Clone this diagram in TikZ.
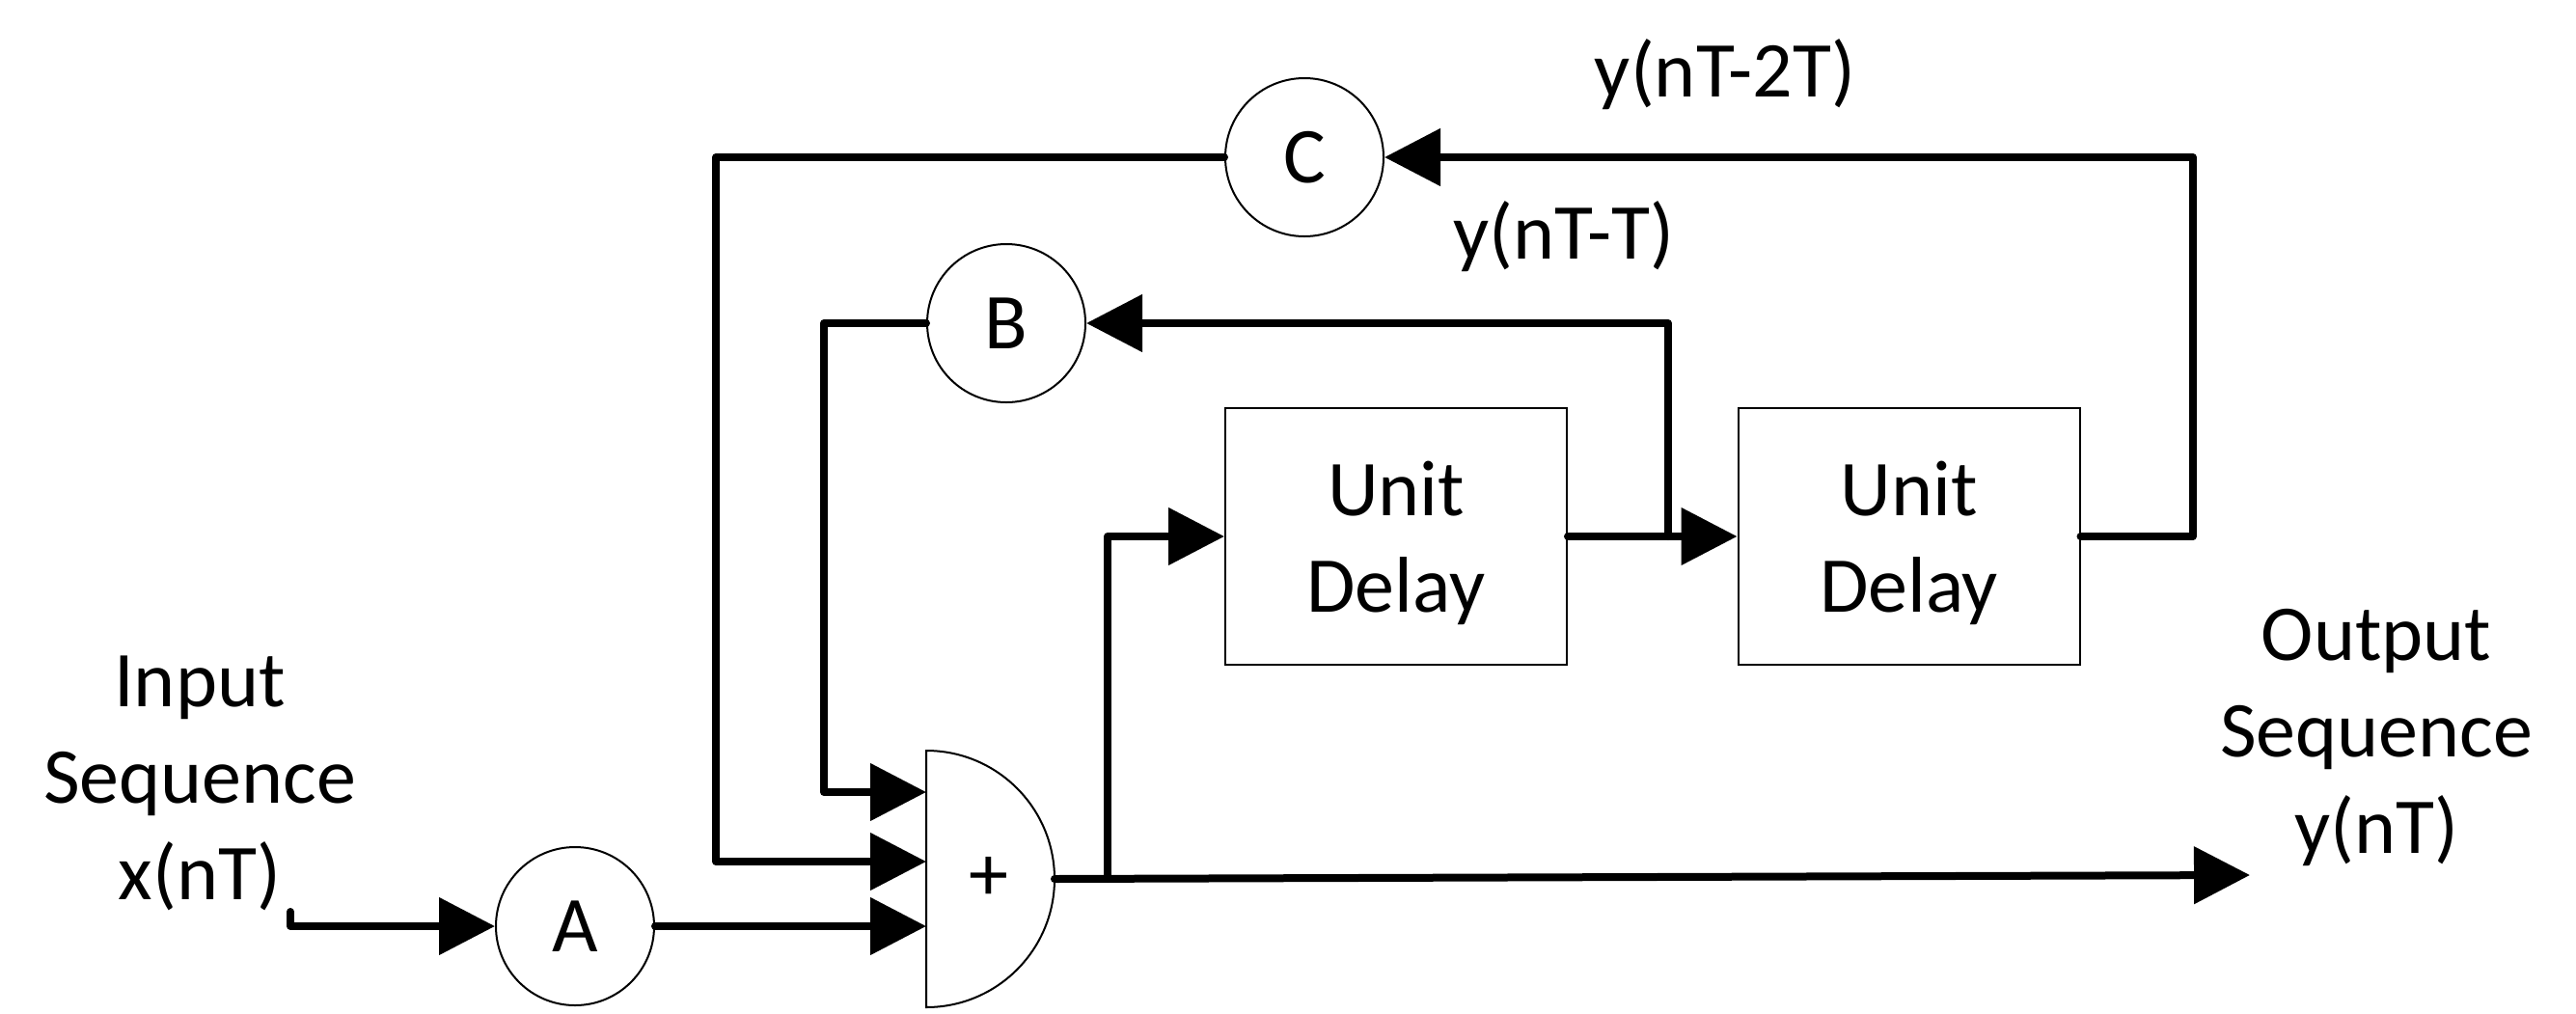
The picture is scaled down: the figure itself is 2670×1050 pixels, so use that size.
\documentclass[tikz,border=0pt]{standalone}
\usepackage{fontspec}
\setmainfont{Carlito}
\usetikzlibrary{arrows.meta}
\begin{document}
\begin{tikzpicture}[x=1pt,y=-1pt,
  wire/.style={line width=8pt,line cap=round,line join=round},
  feed/.style={wire,-{Triangle[length=58pt,width=58pt]}},
  bigtext/.style={font=\fontsize{82}{100}\selectfont},
  gain/.style={circle,draw,line width=2pt,minimum size=164pt,inner sep=0pt,bigtext},
  delaybox/.style={rectangle,draw,line width=2pt,minimum width=354pt,minimum height=266pt,inner sep=0pt},
  lbl/.style={bigtext,align=center,inner sep=0pt},
]
\useasboundingbox (0,0) rectangle (2670,1050);

% multipliers
\node[gain] (A) at (596,960) {A};
\node[gain] (B) at (1043,335) {B};
\node[gain] (C) at (1352,163) {C};

% delay elements
\node[delaybox] (D1) at (1447,556) {};
\node[delaybox] (D2) at (1978.5,556) {};
\node[lbl] (D1t) at ([yshift=-7pt]D1.center) {Unit\\Delay};
\node[lbl] (D2t) at ([yshift=-7pt]D2.center) {Unit\\Delay};

% adder (half disc)
\draw[line width=2pt,fill=white] (960,778) -- (960,1044)
  arc[start angle=-90,end angle=90,radius=133pt] -- cycle;
\node[lbl] (plus) at (1025,911) {+};
\coordinate (s1) at (960,821);
\coordinate (s2) at (960,893);
\coordinate (s3) at (960,960);
\coordinate (so) at (1093,911);

% routing points
\coordinate (in0) at (301,945);
\coordinate (j1) at (1148,911);
\coordinate (j2) at (1729,556);
\coordinate (k2) at (2273,556);
\coordinate (kb) at (854,335);
\coordinate (kc) at (742,163);
\coordinate (out) at (2332,907);

% labels
\node[lbl,anchor=base] (yT2) at (1788,100) {y(nT-2T)};
\node[lbl,anchor=base] (yT1) at (1621,268) {y(nT-T)};
\node[lbl] (inlbl) at (207,812) {Input\\Sequence\\x(nT)};
\node[lbl] (outlbl) at (2463,764) {Output\\Sequence\\y(nT)};

% signal flow
\draw[feed] (in0) |- (A.west);
\draw[feed] (A.east) -- (s3);
\draw[feed] (so) -- (out);
\draw[feed] (j1) |- (D1.west);
\draw[feed] (D1.east) -- (D2.west);
\draw[feed] (j2) |- (B.east);
\draw[feed] (D2.east) -- (k2) |- (C.east);
\draw[feed] (B.west) -- (kb) |- (s1);
\draw[feed] (C.west) -- (kc) |- (s2);
\end{tikzpicture}
\end{document}
